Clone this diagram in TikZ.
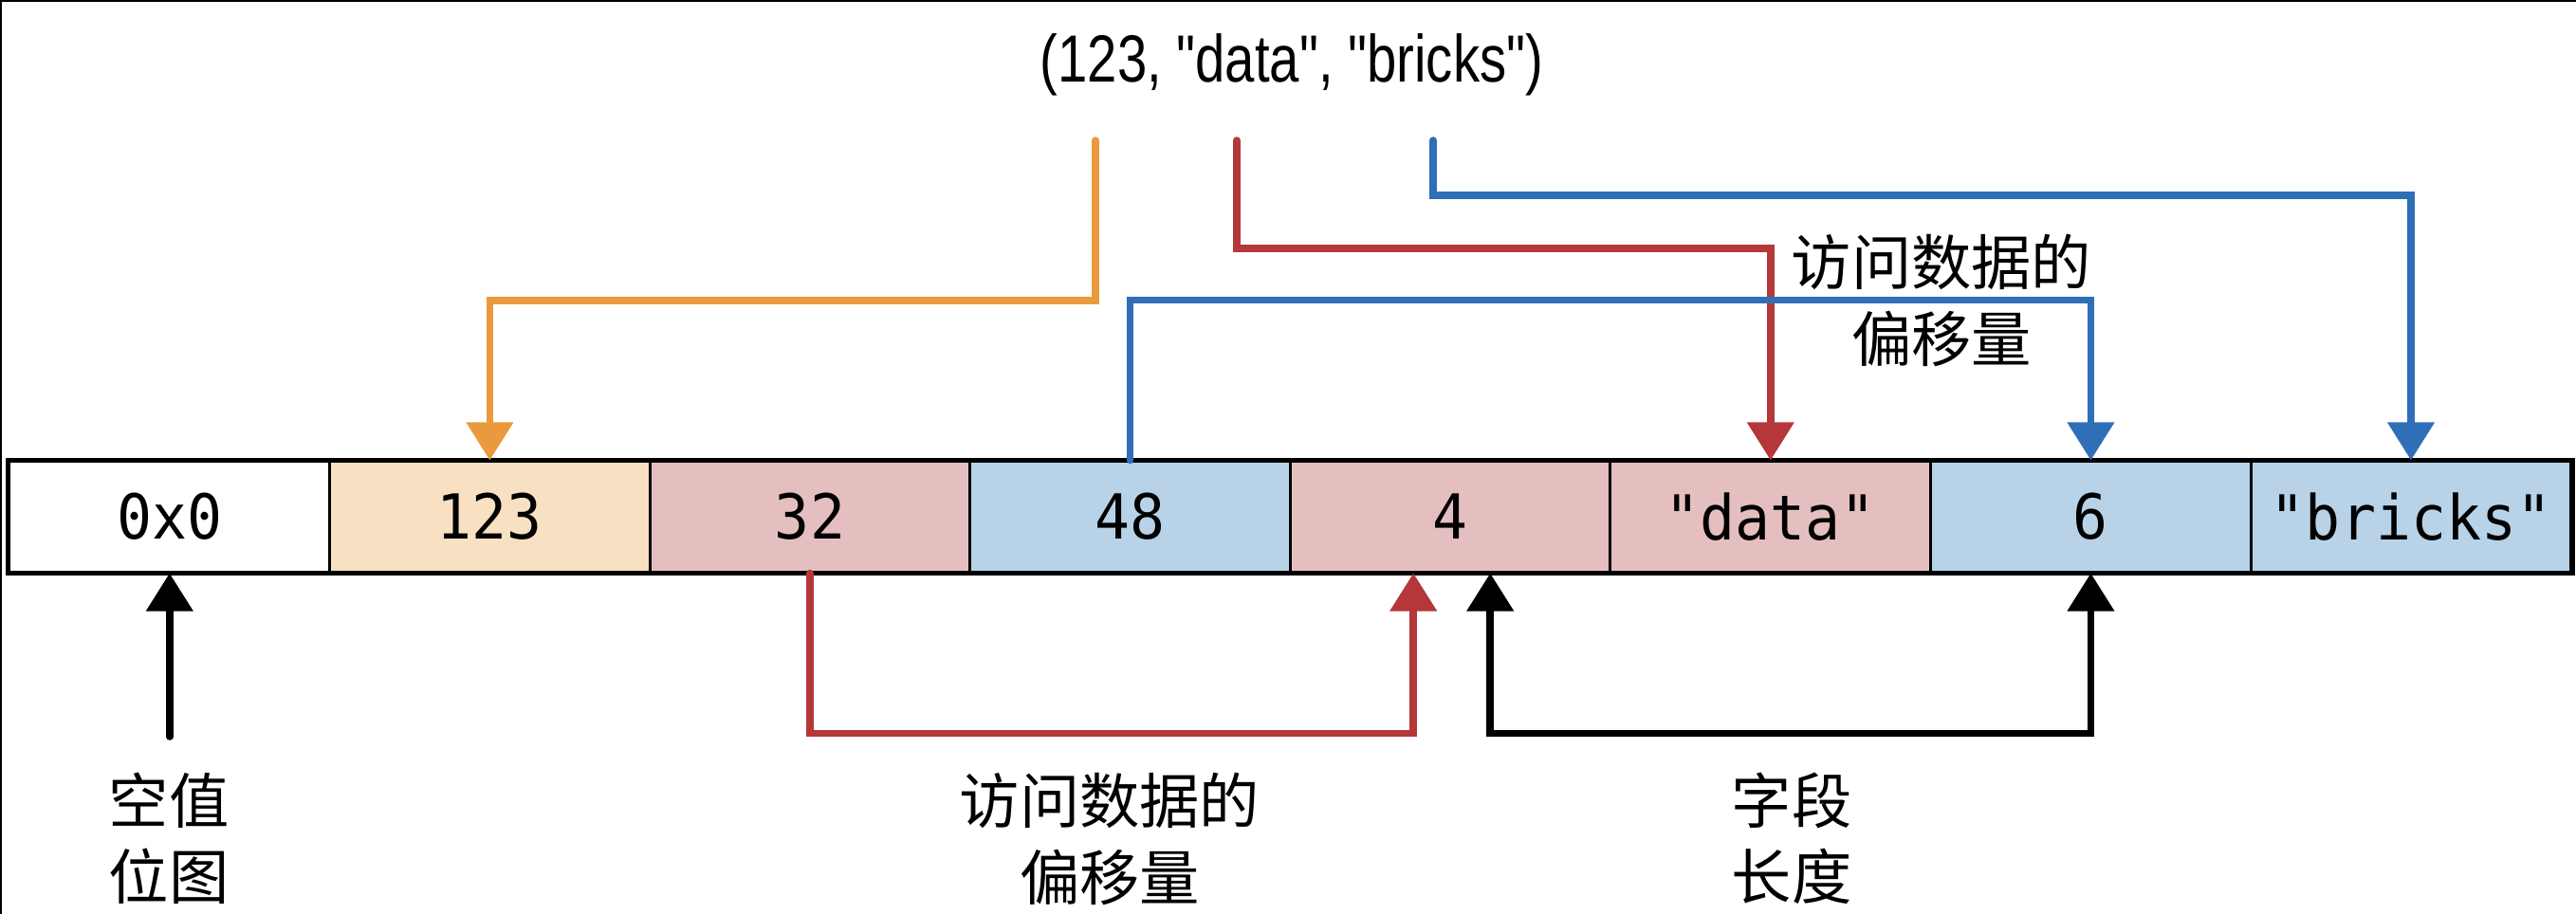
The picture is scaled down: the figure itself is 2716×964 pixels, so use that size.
\documentclass[tikz,border=0pt]{standalone}
\usepackage{fontspec}
\setmainfont{Liberation Sans}
\newfontfamily\cjkfont{Noto Sans CJK SC}
\newfontfamily\cellfont[FakeStretch=0.94]{DejaVu Sans Mono}
\newfontfamily\titlefont[FakeStretch=0.8]{Liberation Sans}
\usetikzlibrary{arrows.meta,calc}
\definecolor{cpeach}{HTML}{F8E0C2}
\definecolor{cpink}{HTML}{E5BFC0}
\definecolor{cblue}{HTML}{B8D3E8}
\definecolor{lorange}{HTML}{EA9A3C}
\definecolor{lred}{HTML}{B5373A}
\definecolor{lblue}{HTML}{2F6FB7}
\begin{document}
\begin{tikzpicture}[x=0.01cm,y=-0.01cm,
  cell/.style={draw=black, line width=0.03cm, minimum width=3.376cm, minimum height=1.16cm,
    inner sep=0pt, font=\cellfont\fontsize{18.6}{20}\selectfont},
  conn/.style={line width=0.075cm, line cap=round},
  tipend/.style={-{Triangle[length=0.40cm,width=0.48cm]}},
  lbl/.style={font=\cjkfont\fontsize{18}{22.8}\selectfont, align=center, inner sep=0pt}]
\useasboundingbox (0,0) rectangle (2716,964);
\draw[line width=0.02cm] (1,964) -- (1,1) -- (2716,1);

% title
\node[font=\titlefont\fontsize{20}{24}\selectfont, inner sep=0pt] (tuple) at (1362,68) {(123, "data", "bricks")};

% cells
\node[cell, fill=white]  (c0) at (178.8,545)  {0x0};
\node[cell, fill=cpeach] (c1) at (516.4,545)  {123};
\node[cell, fill=cpink]  (c2) at (854.0,545)  {32};
\node[cell, fill=cblue]  (c3) at (1191.6,545) {48};
\node[cell, fill=cpink]  (c4) at (1529.2,545) {4};
\node[cell, fill=cpink]  (c5) at (1866.8,545) {"data"};
\node[cell, fill=cblue]  (c6) at (2204.4,545) {6};
\node[cell, fill=cblue]  (c7) at (2542.0,545) {"bricks"};
\draw[line width=0.045cm] (c0.north west) rectangle (c7.south east);

% labels
\node[lbl] (l0) at (178,884)  {空值\\位图};
\node[lbl] (l1) at (1170,885) {访问数据的\\偏移量};
\node[lbl] (l2) at (1889,884) {字段\\长度};
\node[lbl] (l3) at (2047,317) {访问数据的\\偏移量};

% top connectors
\coordinate (o0) at (1155,148);
\coordinate (o1) at (1155,317);
\coordinate (r0) at (1304,148);
\coordinate (r1) at (1304,262);
\coordinate (b0) at (1511,148);
\coordinate (b1) at (1511,206);
\draw[conn, lorange, tipend] (o0) -- (o1) -| (c1.north);
\draw[conn, lred, tipend] (r0) -- (r1) -| (c5.north);
\draw[conn, lblue, tipend] (b0) -- (b1) -| (c7.north);
\draw[conn, lblue, tipend] (c3.north) -- ++(0,-169) -| (c6.north);

% bottom connectors
\coordinate (n0) at (178.8,777);
\draw[conn, black, tipend] (n0) -- (c0.south);
\draw[conn, lred, tipend] (c2.south) -- ++(0,169) -| ($(c4.south)+(-39,0)$);
\draw[conn, black, {Triangle[length=0.40cm,width=0.48cm]}-{Triangle[length=0.40cm,width=0.48cm]}]
  ($(c4.south)+(42,0)$) -- ++(0,169) -| (c6.south);
\end{tikzpicture}
\end{document}
